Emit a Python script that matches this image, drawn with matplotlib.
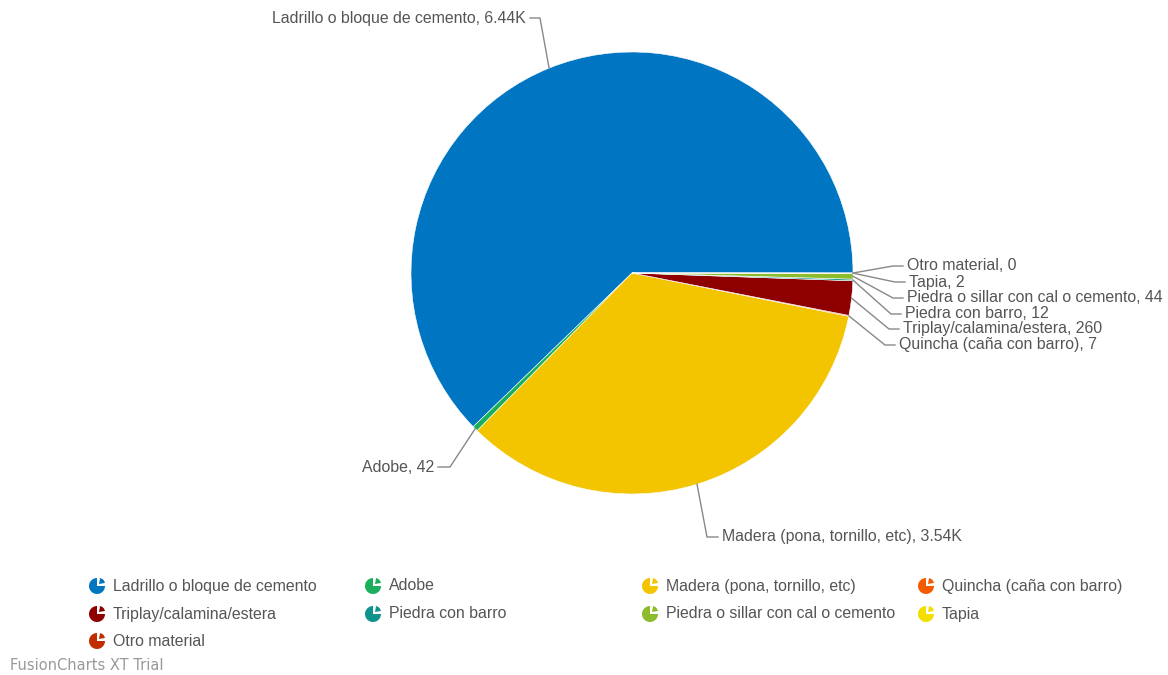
import numpy as np
import matplotlib
matplotlib.use("Agg")
import matplotlib.pyplot as plt
from matplotlib.patches import Wedge

# Wall materials and counts
categories = [
    "Ladrillo o bloque de cemento",
    "Adobe",
    "Madera (pona, tornillo, etc)",
    "Quincha (caña con barro)",
    "Triplay/calamina/estera",
    "Piedra con barro",
    "Piedra o sillar con cal o cemento",
    "Tapia",
    "Otro material",
]
values = [6440, 42, 3540, 7, 260, 12, 44, 2, 0]
value_labels = ["6.44K", "42", "3.54K", "7", "260", "12", "44", "2", "0"]
colors = ["#0075c2", "#1aaf5d", "#f2c500", "#f45b00", "#8e0000",
          "#0e948c", "#8cbb2c", "#f3de00", "#c02d00"]

W, H = 1168, 675
fig = plt.figure(figsize=(W / 100, H / 100), dpi=100)
ax = fig.add_axes([0, 0, 1, 1])

plt.rcParams["font.family"] = ["Liberation Sans", "DejaVu Sans"]
txt_color = "#555555"
line_color = "#888888"
FS = 11.4

cx, cy, R = 632, H - 273, 221
wedges, _ = ax.pie(values, colors=colors, startangle=0, counterclock=True,
                   radius=R, center=(cx, cy), frame=True,
                   wedgeprops=dict(linewidth=0.4, edgecolor="white"))
ax.set_xlim(0, W)
ax.set_ylim(0, H)
ax.set_aspect("equal")
ax.axis("off")


def edge_point(w):
    ang = np.deg2rad((w.theta1 + w.theta2) / 2)
    return cx + R * np.cos(ang), cy + R * np.sin(ang)


# label placement: (elbow x, elbow y, text x, alignment)
placements = {
    0: (540, H - 18, 526, "right"),
    1: (450, H - 467, 434, "right"),
    2: (707, H - 537, 722, "left"),
    3: (885, H - 345, 899, "left"),
    4: (889, H - 329, 903, "left"),
    5: (891, H - 314, 905, "left"),
    6: (893, H - 298, 907, "left"),
    7: (895, H - 282, 909, "left"),
    8: (893, H - 266, 907, "left"),
}

for i, w in enumerate(wedges):
    ex, ey = edge_point(w)
    bx, by, tx, ha = placements[i]
    hx = tx - 4 if ha == "left" else tx + 4
    ax.plot([ex, bx, hx], [ey, by, by], color=line_color, lw=1.0,
            solid_joinstyle="miter", zorder=3)
    ax.text(tx, by, f"{categories[i]}, {value_labels[i]}", ha=ha, va="center",
            fontsize=FS, color=txt_color, zorder=4)

# Legend with pie-shaped icons
col_x = [97, 373, 650, 926]
row_y = [586, 614, 641]
for i, (name, col) in enumerate(zip(categories, colors)):
    r, c = divmod(i, 4)
    ix, iy = col_x[c], H - row_y[r]
    ax.add_patch(Wedge((ix, iy), 8.0, 90, 360, facecolor=col, edgecolor="none"))
    off = 2.0
    ax.add_patch(Wedge((ix + off, iy + off), 6.0, 10, 80,
                       facecolor=col, edgecolor="none"))
    ax.text(ix + 16, iy, name, ha="left", va="center", fontsize=FS,
            color=txt_color)

ax.text(10, H - 665, "FusionCharts XT Trial", ha="left", va="center",
        fontsize=10.5, color="#999999", family="DejaVu Sans")

fig.savefig("out.png", dpi=100)
